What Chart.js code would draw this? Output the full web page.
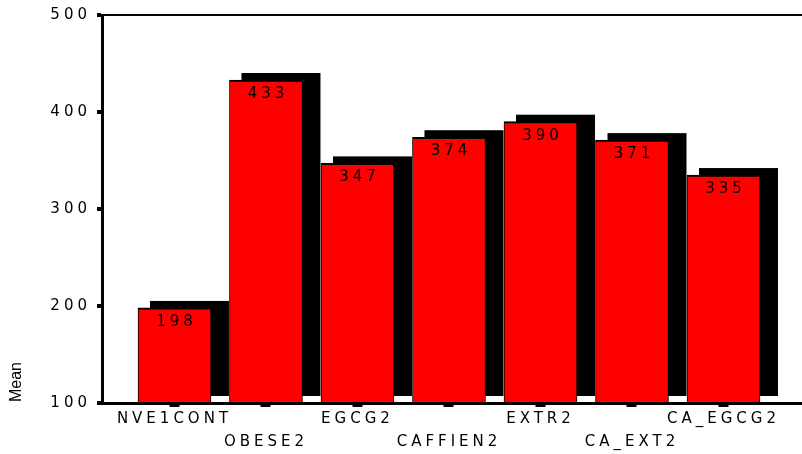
<!DOCTYPE html>
<html>
<head>
<meta charset="utf-8">
<script src="https://cdn.jsdelivr.net/npm/chart.js@4.4.1/dist/chart.umd.min.js"></script>
<style>
    body { margin: 0; background: #fff; }
    canvas { display: block; }
</style>
</head>
<body>
<canvas id="meanChart" width="802" height="454"></canvas>
<script>
const categories = ['NVE1CONT', 'OBESE2', 'EGCG2', 'CAFFIEN2', 'EXTR2', 'CA_EXT2', 'CA_EGCG2'];
const means = [198, 433, 347, 374, 390, 371, 335];
const yTicks = [100, 200, 300, 400, 500];
const yTitle = 'Mean';

const LETTER_SPACING = '4px';
const FONT = "'DejaVu Sans', 'Liberation Sans', Arial, sans-serif";

Chart.defaults.font.family = FONT;
Chart.defaults.color = '#000';

// wide letter spacing for all canvas text
const spacing = {
    id: 'spacing',
    beforeLayout(chart) {
        chart.ctx.letterSpacing = LETTER_SPACING;
    },
    beforeDraw(chart) {
        chart.ctx.letterSpacing = LETTER_SPACING;
    }
};

// black block behind each bar, shifted right and up
const blockShadow = {
    id: 'blockShadow',
    beforeDatasetsDraw(chart) {
        const ctx = chart.ctx;
        const meta = chart.getDatasetMeta(0);
        ctx.save();
        ctx.fillStyle = '#000';
        meta.data.forEach(bar => {
            const { x, y, width, base } = bar.getProps(['x', 'y', 'width', 'base'], true);
            const left = x - width / 2 + 12;
            const top = y - 7;
            ctx.fillRect(left, top, width + 6, base - 6 - top);
        });
        ctx.restore();
    }
};

// value printed just under the top of each bar
const valueLabels = {
    id: 'valueLabels',
    afterDatasetsDraw(chart) {
        const ctx = chart.ctx;
        const meta = chart.getDatasetMeta(0);
        ctx.save();
        ctx.font = '15px ' + FONT;
        ctx.letterSpacing = LETTER_SPACING;
        ctx.fillStyle = '#000';
        ctx.textAlign = 'center';
        ctx.textBaseline = 'middle';
        meta.data.forEach((bar, i) => {
            ctx.fillText(String(means[i]), bar.x + 2, bar.y + 14);
        });
        ctx.restore();
    }
};

// rotated axis title, tucked at the bottom of the y axis
const axisTitle = {
    id: 'axisTitle',
    afterDraw(chart) {
        const ctx = chart.ctx;
        ctx.save();
        ctx.letterSpacing = '0px';
        ctx.font = "16px 'Liberation Sans', Arial, sans-serif";
        ctx.fillStyle = '#000';
        ctx.translate(20.5, chart.chartArea.bottom - 1);
        ctx.rotate(-Math.PI / 2);
        ctx.textAlign = 'left';
        ctx.textBaseline = 'alphabetic';
        ctx.fillText(yTitle, 0, 0);
        ctx.restore();
    }
};

const ctx = document.getElementById('meanChart').getContext('2d');
const chart = new Chart(ctx, {
    type: 'bar',
    data: {
        datasets: [{
            label: yTitle,
            data: means.map((v, i) => ({ x: i, y: v })),
            base: 100,
            backgroundColor: '#ff0000',
            borderColor: '#000',
            borderWidth: { top: 2, left: 1, right: 1, bottom: 0 },
            borderSkipped: false,
            barThickness: 73
        }]
    },
    options: {
        responsive: false,
        animation: false,
        layout: {
            padding: { top: 15, right: 0, left: 0, bottom: 0 }
        },
        plugins: {
            legend: { display: false },
            tooltip: { enabled: false }
        },
        scales: {
            x: {
                type: 'linear',
                offset: false,
                min: -0.792,
                max: 6.858,
                afterBuildTicks(scale) {
                    scale.ticks = categories.map((c, i) => ({ value: i }));
                },
                afterFit(scale) {
                    scale.height = 51;
                },
                ticks: {
                    autoSkip: false,
                    maxRotation: 0,
                    padding: 0,
                    font: { size: 15, lineHeight: 1.55 },
                    callback(value) {
                        const label = categories[value];
                        return value % 2 === 0 ? [label, ''] : ['', label];
                    }
                },
                grid: {
                    offset: false,
                    drawOnChartArea: false,
                    tickLength: 4,
                    tickWidth: 10,
                    tickColor: '#000'
                },
                border: { display: true, color: '#000', width: 3 }
            },
            y: {
                min: 100,
                max: 500,
                afterBuildTicks(scale) {
                    scale.ticks = yTicks.map(v => ({ value: v }));
                },
                afterFit(scale) {
                    scale.width = 102;
                },
                ticks: {
                    padding: 6,
                    font: { size: 15 }
                },
                grid: {
                    drawOnChartArea: true,
                    color: c => (c.tick && c.tick.value === 500 ? '#000' : 'rgba(0,0,0,0)'),
                    lineWidth: 2,
                    tickLength: 5,
                    tickWidth: 4,
                    tickColor: '#000'
                },
                border: { display: true, color: '#000', width: 3 }
            }
        }
    },
    plugins: [spacing, blockShadow, valueLabels, axisTitle]
});
</script>
</body>
</html>
